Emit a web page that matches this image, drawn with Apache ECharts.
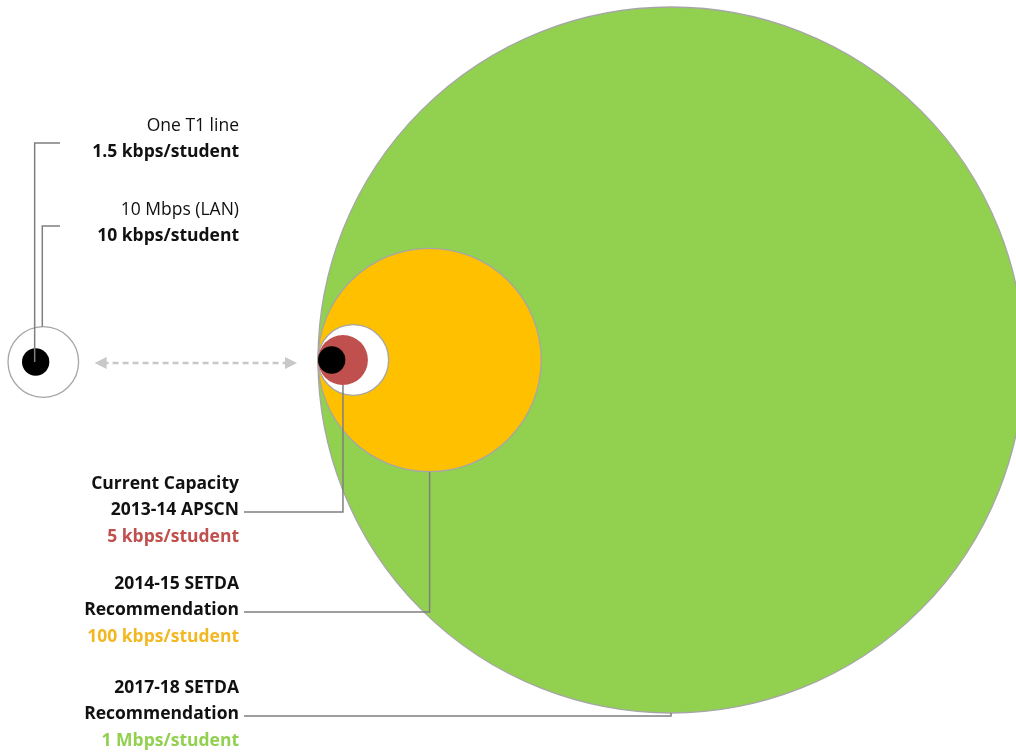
<!DOCTYPE html>
<html><head><meta charset="utf-8">
<script src="https://cdn.jsdelivr.net/npm/echarts@6/dist/echarts.min.js"></script>
<style>html,body{margin:0;padding:0;background:#fff}#c{width:1016px;height:753px}</style>
</head><body><div id="c"></div>
<script>
// ---- data ----
const tierNames = ['2017-18 SETDA Recommendation', '2014-15 SETDA Recommendation', '10 Mbps (LAN)', 'Current Capacity 2013-14 APSCN', 'One T1 line'];
const kbpsPerStudent = [1000, 100, 10, 5, 1.5];
const rateLabels = ['1 Mbps/student', '100 kbps/student', '10 kbps/student', '5 kbps/student', '1.5 kbps/student'];
const labelLines = [['2017-18 SETDA', 'Recommendation'], ['2014-15 SETDA', 'Recommendation'], ['10 Mbps (LAN)'], ['Current Capacity', '2013-14 APSCN'], ['One T1 line']];
const rightClusterTiers = [0, 1, 2, 3, 4];
const leftClusterTiers = [2, 4];

// ---- styles / layout ----
const fills = ['#92d050', '#ffc000', '#ffffff', '#c0504d', '#000000'];
const strokes = ['#a6a6a6', '#a6a6a6', '#a6a6a6', null, null];
const rateColors = ['#92d050', '#f2b824', '#111111', '#c0504d', '#111111'];
const titleBold = [true, true, false, true, false];
const FONT = '"Open Sans", "Noto Sans", sans-serif';
const R_MAX = 353; // radius (axis units) of the largest circle
const anchors = { left: [8, 362], right: [318, 360] }; // left edge & centre y of each cluster
const leftEdgeOverride = { 'left-4': 22 }; // layout tweak: T1 dot sits inside the left LAN circle
const annotations = [
  { tier: 4, cluster: 'left', y0: 126, bracketY: 143, side: 'top', target: 'center' },
  { tier: 2, cluster: 'left', y0: 210, bracketY: 226, side: 'top', target: 'edge' },
  { tier: 3, cluster: 'right', y0: 484, bracketY: 512, side: 'bottom' },
  { tier: 1, cluster: 'right', y0: 584, bracketY: 612, side: 'bottom' },
  { tier: 0, cluster: 'right', y0: 688, bracketY: 716, side: 'bottom' }
];
const TEXT_RIGHT = 239, LINE_H = 26.5;

const maxKbps = Math.max(...kbpsPerStudent);
function geom(api, cluster, tier) {
  const a = anchors[cluster].slice();
  const ov = leftEdgeOverride[cluster + '-' + tier];
  if (ov !== undefined) a[0] = ov;
  const rU = R_MAX * Math.sqrt(kbpsPerStudent[tier] / maxKbps);
  const r = api.size([rU, 0])[0];
  const p = api.coord(a);
  return { cx: p[0] + r, cy: p[1], r: r };
}

const circleData = [];
rightClusterTiers.forEach(t => circleData.push([kbpsPerStudent[t], 0, t, 'right']));
leftClusterTiers.forEach(t => circleData.push([kbpsPerStudent[t], 0, t, 'left']));

const chart = echarts.init(document.getElementById('c'), null, { renderer: 'canvas' });
chart.setOption({
  animation: false,
  backgroundColor: '#ffffff',
  grid: { left: 0, right: 0, top: 0, bottom: 0 },
  xAxis: { type: 'value', min: 0, max: 1016, show: false },
  yAxis: { type: 'value', min: 0, max: 753, inverse: true, show: false },
  series: [
    {
      type: 'custom', coordinateSystem: 'cartesian2d', z: 1, clip: true,
      data: circleData,
      renderItem: function (params, api) {
        const item = circleData[params.dataIndex];
        const t = item[2];
        const g = geom(api, item[3], t);
        return {
          type: 'circle',
          shape: { cx: g.cx, cy: g.cy, r: g.r },
          style: { fill: fills[t], stroke: strokes[t] || null, lineWidth: strokes[t] ? 1.3 : 0 }
        };
      }
    },
    {
      type: 'custom', coordinateSystem: 'cartesian2d', z: 2,
      data: [[0, 0]],
      renderItem: function (params, api) {
        const lw = geom(api, 'left', 2);
        const big = geom(api, 'right', 0);
        const x1 = lw.cx + lw.r + 16, x2 = big.cx - big.r - 21, y = lw.cy + 1;
        const col = '#c8c8c8';
        return {
          type: 'group',
          children: [
            { type: 'line', shape: { x1: x1 + 8, y1: y, x2: x2 - 8, y2: y }, style: { stroke: col, lineWidth: 2.5, lineDash: [6, 4] } },
            { type: 'polygon', shape: { points: [[x1, y], [x1 + 12, y - 6], [x1 + 12, y + 6]] }, style: { fill: col } },
            { type: 'polygon', shape: { points: [[x2, y], [x2 - 12, y - 6], [x2 - 12, y + 6]] }, style: { fill: col } }
          ]
        };
      }
    },
    {
      type: 'custom', coordinateSystem: 'cartesian2d', z: 3,
      data: annotations.map((a, i) => [i, 0]),
      renderItem: function (params, api) {
        const a = annotations[params.dataIndex];
        const t = a.tier;
        const g = geom(api, a.cluster, t);
        const children = [];
        const lines = labelLines[t].map(s => ({ s: s, bold: titleBold[t], color: '#111111' }));
        lines.push({ s: rateLabels[t], bold: true, color: rateColors[t] });
        lines.forEach((ln, k) => {
          children.push({
            type: 'text',
            style: {
              text: ln.s, x: TEXT_RIGHT, y: a.y0 + k * LINE_H,
              fill: ln.color, fontFamily: FONT, fontSize: 17.5,
              fontWeight: ln.bold ? 'bold' : 'normal',
              align: 'right', verticalAlign: 'middle'
            }
          });
        });
        let pts;
        if (a.side === 'top') {
          const endY = a.target === 'center' ? g.cy : g.cy - g.r;
          pts = [[60, a.bracketY], [g.cx - 1, a.bracketY], [g.cx - 1, endY]];
        } else {
          pts = [[244, a.bracketY], [g.cx, a.bracketY], [g.cx, g.cy + g.r]];
        }
        children.push({ type: 'polyline', shape: { points: pts }, style: { stroke: '#7f7f7f', lineWidth: 1.5, fill: null } });
        return { type: 'group', children: children };
      }
    }
  ]
});
</script></body></html>
